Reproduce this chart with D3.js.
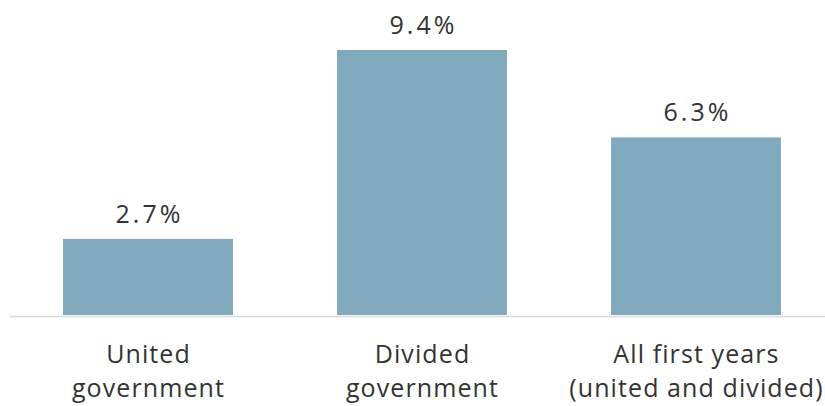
<!DOCTYPE html>
<html>
<head>
<meta charset="utf-8">
<script src="https://cdn.jsdelivr.net/npm/d3@7"></script>
<style>
  body { margin: 0; background: #fff; }
  text { font-family: "Open Sans", sans-serif; fill: #333; }
</style>
</head>
<body>
<svg width="825" height="406"></svg>
<script>
// values
const categories = ["United government", "Divided government", "All first years (united and divided)"];
const labelLines = [["United", "government"], ["Divided", "government"], ["All first years", "(united and divided)"]];
const values = [2.7, 9.4, 6.3];
const valueLabels = ["2.7%", "9.4%", "6.3%"];

const svg = d3.select("svg");

const x = d3.scaleBand()
    .domain(categories)
    .range([11, 833])
    .paddingInner(0.38)
    .paddingOuter(0.19);

const y = d3.scaleLinear()
    .domain([0, 9.4])
    .range([315, 50]);

// baseline
svg.append("line")
    .attr("x1", 10).attr("x2", 825)
    .attr("y1", 316.5).attr("y2", 316.5)
    .attr("stroke", "#d9d9d9")
    .attr("stroke-width", 1.5);

svg.selectAll("rect.bar")
    .data(values)
    .enter()
    .append("rect")
    .attr("class", "bar")
    .attr("x", (d, i) => x(categories[i]))
    .attr("y", d => y(d))
    .attr("width", x.bandwidth())
    .attr("height", d => y(0) - y(d))
    .attr("fill", "#80a9bc");

// value labels
svg.selectAll("text.val")
    .data(values)
    .enter()
    .append("text")
    .attr("class", "val")
    .attr("x", (d, i) => x(categories[i]) + x.bandwidth() / 2 + 1.5)
    .attr("y", d => y(d) - 16)
    .attr("text-anchor", "middle")
    .style("font-size", "25px")
    .style("letter-spacing", "3px")
    .text((d, i) => valueLabels[i]);

// category labels
const cat = svg.selectAll("text.cat")
    .data(categories)
    .enter()
    .append("text")
    .attr("class", "cat")
    .attr("text-anchor", "middle")
    .style("font-size", "25px")
    .style("letter-spacing", "1.1px");

cat.each(function(d, i) {
    const t = d3.select(this);
    labelLines[i].forEach((line, j) => {
        t.append("tspan")
            .attr("x", x(d) + x.bandwidth() / 2 + 0.5)
            .attr("y", 363 + j * 34)
            .text(line);
    });
});
</script>
</body>
</html>
